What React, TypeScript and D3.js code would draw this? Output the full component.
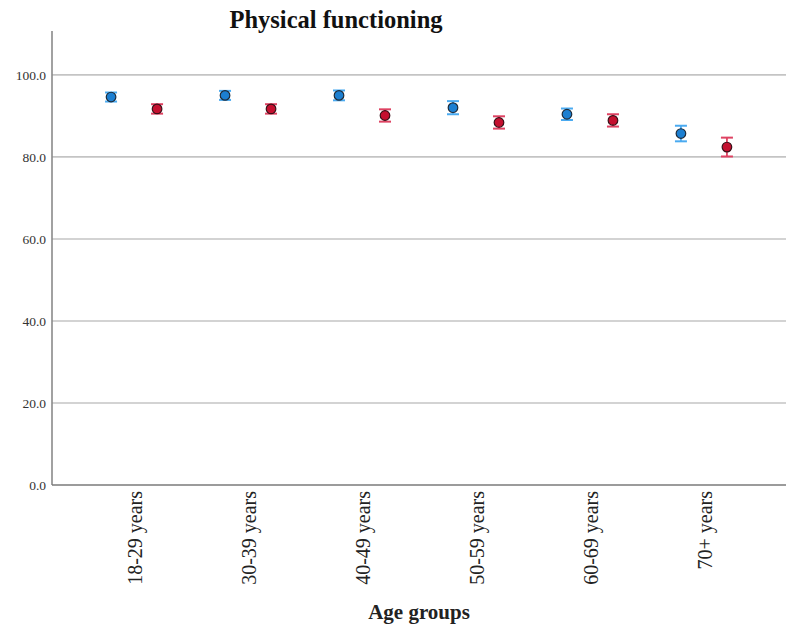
import React from "react";
import * as d3 from "d3";

const categories = ["18-29 years", "30-39 years", "40-49 years", "50-59 years", "60-69 years", "70+ years"];
const blueMeans = [94.6, 95.0, 95.0, 92.0, 90.4, 85.7];
const blueErr = [1.1, 1.1, 1.2, 1.6, 1.4, 1.9];
const redMeans = [91.7, 91.7, 90.1, 88.4, 88.9, 82.4];
const redErr = [1.15, 1.15, 1.5, 1.5, 1.5, 2.3];
const yTicks = [0, 20, 40, 60, 80, 100];
const title = "Physical functioning";
const xTitle = "Age groups";

const W = 798;
const H = 637;
const left = 52;
const right = 786;
const top = 31;
const bottom = 485;

export default function App() {
  const y = d3.scaleLinear().domain([0, 110.7]).range([bottom, top]);
  const x = d3.scalePoint<string>().domain(categories).range([left, right]).padding(0.72);
  const off = 23;
  const serif = "'Liberation Serif', 'Times New Roman', serif";

  const series = [
    { means: blueMeans, errs: blueErr, dx: -off, fill: "#1c7fd1", bar: "#4aaaf0", stroke: "#1d2b3a" },
    { means: redMeans, errs: redErr, dx: off, fill: "#c4102f", bar: "#de4262", stroke: "#3a1018" },
  ];

  return (
    <svg width={W} height={H} style={{ position: "fixed", left: 0, top: 0, background: "#fff" }}>
      <rect x={0} y={0} width={W} height={H} fill="#fff" />
      {yTicks.filter((t) => t > 0).map((t) => (
        <line key={"g" + t} x1={left} x2={right} y1={y(t)} y2={y(t)} stroke="#c4c4c4" strokeWidth={1.6} />
      ))}
      <line x1={left} x2={left} y1={top} y2={bottom} stroke="#8a8a8a" strokeWidth={1.6} />
      <line x1={left} x2={right} y1={bottom} y2={bottom} stroke="#7a7a7a" strokeWidth={1.6} />
      {yTicks.map((t) => (
        <text key={"t" + t} x={left - 6} y={y(t)} dy="0.35em" textAnchor="end" fontFamily={serif} fontSize={13.5} fill="#333">
          {d3.format(".1f")(t)}
        </text>
      ))}
      {categories.map((c) => (
        <text
          key={c}
          transform={`translate(${x(c)! + 1},${bottom + 6}) rotate(-90)`}
          dy="0.35em"
          textAnchor="end"
          fontFamily={serif}
          fontSize={20}
          fill="#222"
        >
          {c}
        </text>
      ))}
      {series.map((s, si) =>
        categories.map((c, i) => {
          const cx = x(c)! + s.dx;
          const m = s.means[i];
          const e = s.errs[i];
          const y1 = y(m + e);
          const y2 = y(m - e);
          return (
            <g key={si + "-" + i}>
              <line x1={cx} x2={cx} y1={y1} y2={y2} stroke={s.bar} strokeWidth={1.8} />
              <line x1={cx - 6} x2={cx + 6} y1={y1} y2={y1} stroke={s.bar} strokeWidth={2} />
              <line x1={cx - 6} x2={cx + 6} y1={y2} y2={y2} stroke={s.bar} strokeWidth={2} />
              <circle cx={cx} cy={y(m)} r={4.8} fill={s.fill} stroke={s.stroke} strokeWidth={1.2} />
            </g>
          );
        })
      )}
      <text x={336} y={28} textAnchor="middle" fontFamily={serif} fontWeight="bold" fontSize={24.5} fill="#111">
        {title}
      </text>
      <text x={419} y={619} textAnchor="middle" fontFamily={serif} fontWeight="bold" fontSize={21} fill="#222">
        {xTitle}
      </text>
    </svg>
  );
}
